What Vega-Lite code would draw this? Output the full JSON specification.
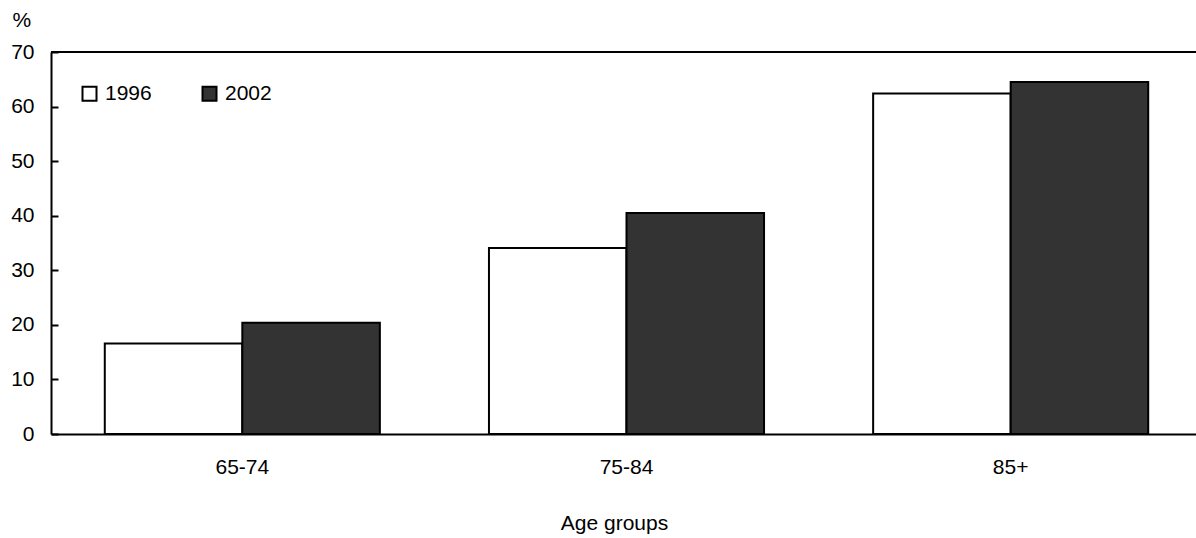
{
  "$schema": "https://vega.github.io/schema/vega-lite/v6.json",
  "autosize": {"type": "none"},
  "width": 1151,
  "height": 382,
  "padding": {"left": 51, "top": 52, "right": 0, "bottom": 104},
  "background": "white",
  "config": {
    "view": {"stroke": null},
    "font": "Liberation Sans",
    "axis": {"grid": false, "domainColor": "black", "domainWidth": 2, "tickColor": "black", "tickWidth": 2, "labelColor": "black", "titleColor": "black", "labelFont": "Liberation Sans", "titleFont": "Liberation Sans", "labelFontSize": 21, "titleFontSize": 21, "titleFontWeight": "normal"},
    "legend": {"labelFont": "Liberation Sans", "labelFontSize": 21, "labelColor": "black"}
  },
  "data": {"values": [
    {"age": "65-74", "year": "1996", "pct": 16.6},
    {"age": "65-74", "year": "2002", "pct": 20.4},
    {"age": "75-84", "year": "1996", "pct": 34.1},
    {"age": "75-84", "year": "2002", "pct": 40.5},
    {"age": "85+", "year": "1996", "pct": 62.4},
    {"age": "85+", "year": "2002", "pct": 64.5}
  ]},
  "layer": [
    {
      "mark": {"type": "bar", "stroke": "black", "strokeWidth": 2},
      "encoding": {
        "x": {"field": "age", "type": "nominal", "sort": ["65-74", "75-84", "85+"],
              "scale": {"paddingInner": 0.284, "paddingOuter": 0.14},
              "axis": {"title": "Age groups", "labelAngle": 0, "ticks": false, "labelPadding": 33, "labelBaseline": "middle",
                       "titleY": 95, "titleBaseline": "alphabetic", "titleX": 563}},
        "xOffset": {"field": "year", "type": "nominal", "scale": {"paddingInner": 0, "paddingOuter": 0}},
        "y": {"field": "pct", "type": "quantitative", "scale": {"domain": [0, 70], "nice": false},
              "axis": {"title": "%", "titleAngle": 0, "titleAlign": "left", "titleBaseline": "middle", "titleX": -39, "titleY": -32,
                       "values": [0, 10, 20, 30, 40, 50, 60, 70], "tickSize": -7, "labelPadding": 24}},
        "fill": {"field": "year", "type": "nominal",
                 "scale": {"domain": ["1996", "2002"], "range": ["#ffffff", "#333333"]},
                 "legend": {"title": null, "orient": "none", "legendX": 28, "legendY": 31, "direction": "horizontal",
                            "symbolType": "square", "symbolSize": 196, "symbolStrokeColor": "black", "symbolStrokeWidth": 2,
                            "labelOffset": 5, "columnPadding": 46}}
      }
    },
    {
      "data": {"values": [{"top": 70}]},
      "mark": {"type": "rule", "color": "black", "strokeWidth": 2},
      "encoding": {"y": {"field": "top", "type": "quantitative"}}
    }
  ]
}
